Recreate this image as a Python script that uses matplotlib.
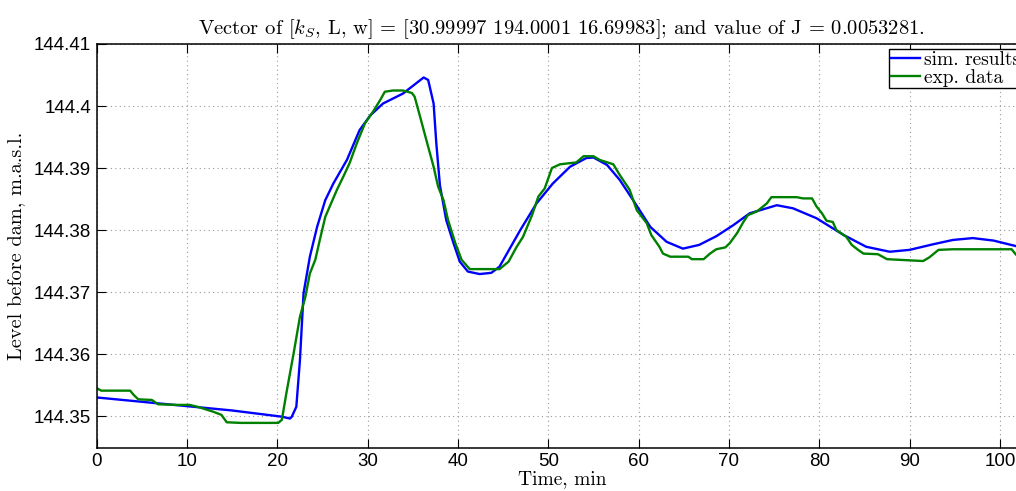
import matplotlib
matplotlib.use('Agg')
import matplotlib.pyplot as plt
from matplotlib.ticker import FixedLocator, FuncFormatter

plt.rcParams['mathtext.fontset'] = 'cm'

# simulated level (min, m a.s.l.)
t_sim = [0, 5, 10, 15, 20.5, 21.4, 21.6, 22.1, 22.5, 22.9, 23.6, 24.4, 25.3, 26.2,
         27.7, 29.1, 30.3, 31.7, 33.9, 36.2, 36.7, 37.3, 37.6, 38.0, 38.7, 39.5,
         40.2, 41.1, 42.4, 43.7, 44.6, 46.9, 48.7, 50.5, 52.4, 54.2, 55.0, 56.5,
         57.9, 59.4, 61.3, 63.1, 64.9, 66.7, 68.6, 70.5, 72.3, 75.3, 77.1, 79.7,
         82.7, 85.2, 87.8, 90.0, 92.6, 94.8, 97.0, 99.3, 101.8, 103]
lvl_sim = [144.3530, 144.3523, 144.3516, 144.3509, 144.3499, 144.3496, 144.3499,
           144.3515, 144.3590, 144.3698, 144.3757, 144.3805, 144.3848, 144.3875,
           144.3913, 144.3961, 144.3985, 144.4004, 144.4020, 144.4046, 144.4042,
           144.4004, 144.3940, 144.3872, 144.3816, 144.3779, 144.3749, 144.3733,
           144.3729, 144.3731, 144.3741, 144.3800, 144.3843, 144.3875, 144.3902,
           144.3916, 144.3917, 144.3905, 144.3881, 144.3848, 144.3805, 144.3781,
           144.3770, 144.3776, 144.3790, 144.3808, 144.3827, 144.3840, 144.3835,
           144.3819, 144.3792, 144.3773, 144.3765, 144.3768, 144.3777, 144.3784,
           144.3787, 144.3783, 144.3774, 144.3770]

# measured level
t_exp = [0, 0.5, 3.7, 4.1, 4.6, 6.1, 6.8, 8.9, 10.3, 11.4, 12.9, 13.8, 14.4, 15.9,
         20.1, 20.5, 21.0, 21.8, 22.5, 23.1, 23.6, 24.2, 24.7, 25.3, 25.8, 26.6,
         27.3, 28.0, 28.8, 29.7, 30.6, 31.4, 31.9, 32.8, 33.9, 34.9, 35.2, 35.8,
         36.5, 37.3, 37.8, 38.4, 38.9, 39.7, 40.4, 41.3, 44.6, 45.6, 46.5, 47.2,
         48.2, 48.9, 49.6, 50.4, 51.3, 53.1, 53.9, 55.0, 55.7, 57.2, 57.9, 59.0,
         59.8, 60.9, 61.4, 62.3, 62.7, 63.5, 65.5, 65.9, 67.2, 67.9, 68.6, 69.6,
         70.1, 70.9, 71.6, 72.1, 73.1, 74.2, 74.7, 77.5, 78.2, 79.2, 79.7, 80.3,
         80.8, 81.5, 81.9, 83.0, 83.6, 84.3, 84.9, 86.5, 87.5, 91.5, 92.2, 93.2,
         94.8, 101.3, 101.8, 103]
lvl_exp = [144.3545, 144.3541, 144.3541, 144.3534, 144.3527, 144.3526, 144.3519,
           144.3518, 144.3518, 144.3514, 144.3507, 144.3502, 144.3490, 144.3489,
           144.3489, 144.3494, 144.3537, 144.3601, 144.3660, 144.3692, 144.3730,
           144.3752, 144.3784, 144.3821, 144.3838, 144.3865, 144.3886, 144.3908,
           144.3940, 144.3972, 144.3991, 144.4010, 144.4023, 144.4025, 144.4025,
           144.4021, 144.4015, 144.3983, 144.3945, 144.3902, 144.3870, 144.3848,
           144.3816, 144.3779, 144.3752, 144.3737, 144.3737, 144.3749, 144.3773,
           144.3789, 144.3824, 144.3854, 144.3867, 144.3900, 144.3906, 144.3909,
           144.3919, 144.3919, 144.3913, 144.3906, 144.3889, 144.3865, 144.3832,
           144.3811, 144.3792, 144.3773, 144.3762, 144.3757, 144.3757, 144.3753,
           144.3753, 144.3762, 144.3769, 144.3772, 144.3779, 144.3795, 144.3813,
           144.3824, 144.3830, 144.3843, 144.3853, 144.3853, 144.3851, 144.3851,
           144.3838, 144.3827, 144.3815, 144.3813, 144.3800, 144.3789, 144.3776,
           144.3768, 144.3762, 144.3761, 144.3753, 144.3750, 144.3756, 144.3768,
           144.3769, 144.3769, 144.3760, 144.3758]

x_ticks = [0, 10, 20, 30, 40, 50, 60, 70, 80, 90, 100]
y_ticks = [144.35, 144.36, 144.37, 144.38, 144.39, 144.40, 144.41]

serif = 'cmr10'

fig = plt.figure(figsize=(10.16, 4.91), dpi=100)
ax = fig.add_axes([0.0952, 0.0882, 0.9156, 0.8222])

ax.plot(t_sim, lvl_sim, color='#0000ff', lw=1.7, label='sim. results')
ax.plot(t_exp, lvl_exp, color='#008000', lw=1.7, label='exp. data')

ax.set_xlim(0, 103)
ax.set_ylim(144.3449, 144.41)
ax.xaxis.set_major_locator(FixedLocator(x_ticks))
ax.yaxis.set_major_locator(FixedLocator(y_ticks))
ax.yaxis.set_major_formatter(FuncFormatter(lambda v, p: '%g' % round(v, 4)))
ax.tick_params(direction='in', length=6.5, width=0.8, top=True, right=True,
               labelsize=13.5, pad=4)
for lab in ax.get_xticklabels() + ax.get_yticklabels():
    lab.set_family(['Liberation Sans', 'DejaVu Sans'])
for s in ax.spines.values():
    s.set_linewidth(1.1)

ax.grid(True, color='#9a9a9a', linestyle=(0, (1, 3)), linewidth=0.8)

ax.set_title(r'Vector of [$k_S$, L, w] = [30.99997 194.0001 16.69983]; and value of J = 0.0053281.',
             family=serif, fontsize=14.8, pad=7)
ax.set_xlabel('Time, min', family=serif, fontsize=14, labelpad=0)
ax.set_ylabel('Level before dam, m.a.s.l.', family=serif, fontsize=14.6, labelpad=6)

leg = ax.legend(loc='upper right', prop={'family': serif, 'size': 14},
                fancybox=False, framealpha=1, edgecolor='black',
                labelspacing=0, handlelength=1.5, handletextpad=0.2,
                borderpad=0.08, borderaxespad=0.28)
leg.get_frame().set_linewidth(1.0)

fig.savefig('out.png', dpi=100)
